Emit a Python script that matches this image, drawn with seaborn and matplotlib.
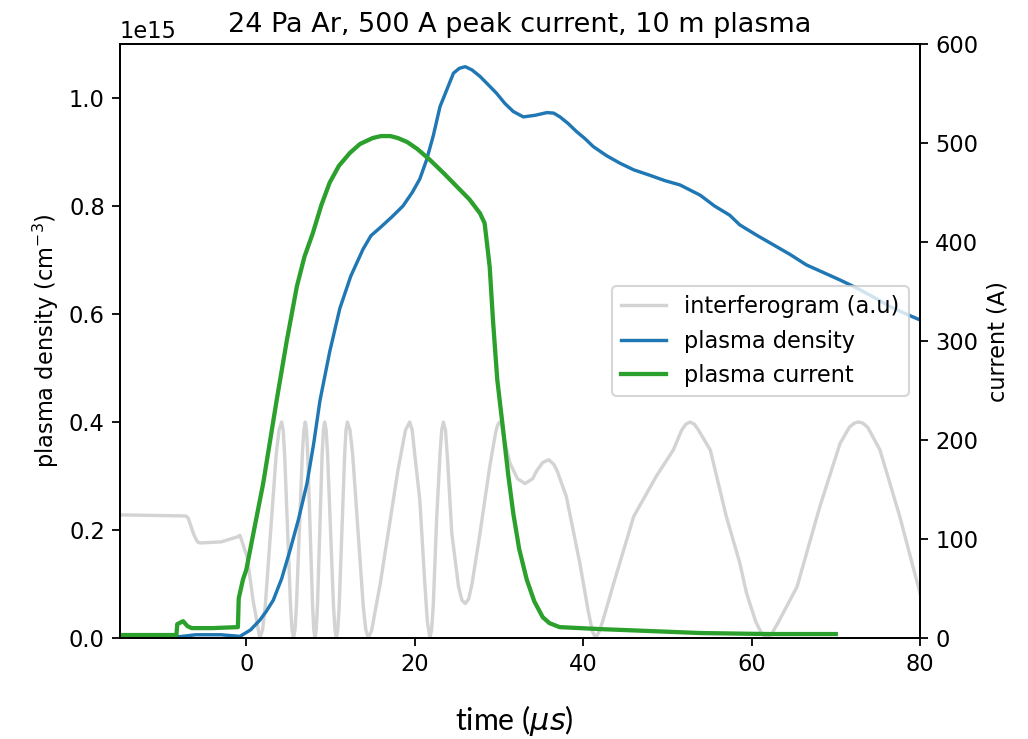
import numpy as np
import pandas as pd
import matplotlib
matplotlib.use("Agg")
import matplotlib.pyplot as plt
import seaborn as sns

# ---- data ----
interf_t = [-15, -7.2, -6.9, -6.2, -5.8, -5.5, -3, -1.1, -0.75, 0.1, 0.8, 1.6,
            1.93, 2.25, 2.9, 3.55, 3.88, 4.2,
            4.38, 4.55, 4.9, 5.25, 5.43, 5.6,
            5.78, 5.95, 6.3, 6.65, 6.83, 7.0,
            7.15, 7.29, 7.58, 7.87, 8.01, 8.16,
            8.3, 8.45, 8.73, 9.0, 9.16, 9.3,
            9.48, 9.65, 10.0, 10.35, 10.53, 10.7,
            10.86, 11.03, 11.35, 11.68, 11.84, 12.0,
            12.31, 12.63, 13.25, 13.88, 14.19, 14.5,
            14.9, 15.3, 15.9, 16.7, 17.45, 18.0, 18.45, 18.9, 19.4,
            19.7, 20.0, 20.6, 21.2, 21.5, 21.8,
            22.0, 22.2, 22.6, 23.0, 23.2, 23.4,
            23.65, 23.9, 24.4, 25.2, 25.6, 26.0,
            26.4, 26.8, 27.75, 28.9, 29.6, 29.85, 30.1,
            30.35, 30.6, 31.3, 32.2, 33.1,
            34.0, 34.5, 35.2, 35.9,
            36.5, 36.9, 38.0, 39.6, 40.6, 41.1, 41.5,
            41.9, 42.3, 43.6, 46.0, 48.7, 50.7, 51.7, 52.2, 52.7,
            53.2, 53.7, 55.1, 57.0, 58.6, 59.4, 60.5, 61.2, 61.8,
            62.4, 63.2, 65.4, 68.1, 70.5, 71.6, 72.2, 72.7,
            73.2, 73.8, 75.25, 77.6, 80]
interf_v = [0.228, 0.226, 0.222, 0.19, 0.178, 0.176, 0.178, 0.187, 0.19, 0.15, 0.07, 0.0,
            0.015, 0.06, 0.2, 0.34, 0.385, 0.40,
            0.385, 0.34, 0.2, 0.06, 0.015, 0.0,
            0.015, 0.06, 0.2, 0.34, 0.385, 0.40,
            0.385, 0.34, 0.2, 0.06, 0.015, 0.0,
            0.015, 0.06, 0.2, 0.34, 0.385, 0.40,
            0.385, 0.34, 0.2, 0.06, 0.015, 0.0,
            0.015, 0.06, 0.2, 0.34, 0.385, 0.40,
            0.385, 0.34, 0.2, 0.06, 0.015, 0.0,
            0.015, 0.05, 0.10, 0.18, 0.256, 0.31, 0.348, 0.385, 0.40,
            0.385, 0.34, 0.256, 0.10, 0.03, 0.0,
            0.015, 0.06, 0.22, 0.34, 0.385, 0.40,
            0.385, 0.33, 0.194, 0.095, 0.07, 0.064,
            0.072, 0.10, 0.194, 0.317, 0.38, 0.395, 0.40,
            0.392, 0.37, 0.324, 0.295, 0.286,
            0.295, 0.31, 0.325, 0.33,
            0.322, 0.31, 0.262, 0.139, 0.05, 0.012, 0.0,
            0.012, 0.03, 0.10, 0.225, 0.30, 0.348, 0.385, 0.396, 0.40,
            0.396, 0.385, 0.348, 0.225, 0.139, 0.083, 0.03, 0.008, 0.0,
            0.008, 0.03, 0.095, 0.243, 0.36, 0.39, 0.398, 0.40,
            0.398, 0.39, 0.348, 0.225, 0.083]

dens_t = [-8.2, -6.0, -3.0, -0.75, 0.5, 1.6, 2.4, 3.2, 4.2, 5.2, 6.2, 7.2, 8.0, 8.75,
          9.9, 11.1, 12.4, 13.86, 14.8, 15.9, 17.3, 18.6, 19.7, 20.6, 21.4, 22.2,
          23.0, 24.6, 25.3, 26.0, 26.8, 27.75, 28.7, 29.7, 30.7, 31.7, 32.9, 34.3,
          35.7, 36.5, 37.25, 38.2, 39.2, 40.2, 41.2, 42.8, 44.4, 46.0, 47.9, 49.7,
          51.5, 53.9, 55.6, 57.4, 58.6, 60.6, 62.6, 64.6, 66.5, 68.5, 70.5, 72.5,
          74.4, 76.4, 78.2, 80]
dens_v = [0.002, 0.006, 0.006, 0.003, 0.015, 0.033, 0.05, 0.07, 0.11, 0.163, 0.22, 0.286, 0.36, 0.44,
          0.53, 0.61, 0.67, 0.72, 0.745, 0.76, 0.78, 0.80, 0.825, 0.85, 0.885, 0.93,
          0.984, 1.046, 1.055, 1.058, 1.052, 1.04, 1.025, 1.009, 0.99, 0.975, 0.965, 0.968,
          0.973, 0.972, 0.965, 0.953, 0.938, 0.925, 0.91, 0.893, 0.879, 0.867, 0.857, 0.847,
          0.839, 0.82, 0.80, 0.783, 0.765, 0.746, 0.728, 0.71, 0.691, 0.677, 0.663, 0.648,
          0.632, 0.614, 0.601, 0.589]

curr_t = [-15, -8.3, -8.2, -7.5, -7.0, -6.5, -4, -1.0, -0.9, -0.4, 0.0, 0.8, 2.0, 3.6,
          4.8, 6.0, 6.9, 7.9, 8.9, 9.9, 11.0, 12.3, 13.5, 15.0, 16.0, 17.1, 18.0, 19.1,
          20.3, 21.8, 23.5, 25.0, 26.5, 27.75, 28.3, 28.9, 29.3, 29.8,
          30.5, 31.1, 31.7, 32.4, 33.3, 34.2, 35.2, 36.0, 37.2, 42, 54, 62, 70]
curr_v = [3, 3, 14, 17, 12, 10, 10, 11, 40, 59, 69, 104, 156, 240,
          300, 355, 385, 409, 437, 460, 477, 490, 499, 505, 507, 507, 505, 501,
          494, 483, 469, 456, 443, 429, 419, 375, 320, 261,
          210, 165, 126, 90, 59, 37, 21, 15, 11, 9, 5, 4, 4]

title = "24 Pa Ar, 500 A peak current, 10 m plasma"
xticks = [0, 20, 40, 60, 80]

# ---- style (scaled default matplotlib look) ----
s = 1.08
plt.rcParams.update({
    "font.size": 10 * s,
    "axes.linewidth": 0.8 * s,
    "xtick.major.size": 3.5 * s, "ytick.major.size": 3.5 * s,
    "xtick.major.width": 0.8 * s, "ytick.major.width": 0.8 * s,
})

fig = plt.figure(figsize=(1028 / 150, 739 / 150), dpi=150)
ax1 = fig.add_axes([120 / 1028, 1 - 638 / 739, 800 / 1028, 594 / 739])
ax2 = ax1.twinx()

df_i = pd.DataFrame({"t": interf_t, "v": np.array(interf_v) * 1e15})
df_d = pd.DataFrame({"t": dens_t, "v": np.array(dens_v) * 1e15})
df_c = pd.DataFrame({"t": curr_t, "v": curr_v})

sns.lineplot(data=df_i, x="t", y="v", ax=ax1, color="lightgray", lw=1.5 * s,
             estimator=None, sort=False, label="interferogram (a.u)", legend=False)
sns.lineplot(data=df_d, x="t", y="v", ax=ax1, color="#1f77b4", lw=1.5 * s,
             estimator=None, sort=False, label="plasma density", legend=False)
sns.lineplot(data=df_c, x="t", y="v", ax=ax2, color="#2ca02c", lw=1.9 * s,
             estimator=None, sort=False, label="plasma current", legend=False)

ax1.set_xlim(-15, 80)
ax1.set_ylim(0, 1.1e15)
ax2.set_ylim(0, 600)
ax1.set_xticks(xticks)
ax1.set_xlabel("")
ax1.set_ylabel("plasma density (cm$^{-3}$)")
ax2.set_ylabel("current (A)")
ax1.set_title(title)

h1, l1 = ax1.get_legend_handles_labels()
h2, l2 = ax2.get_legend_handles_labels()
ax2.legend(h1 + h2, l1 + l2, loc="center right")

fig.text(0.5, 0.025, r"time ($\mu s$)", ha="center", va="center",
         fontsize=14.5, family=["Lato", "DejaVu Sans"])

fig.savefig("out.png", dpi=150)
